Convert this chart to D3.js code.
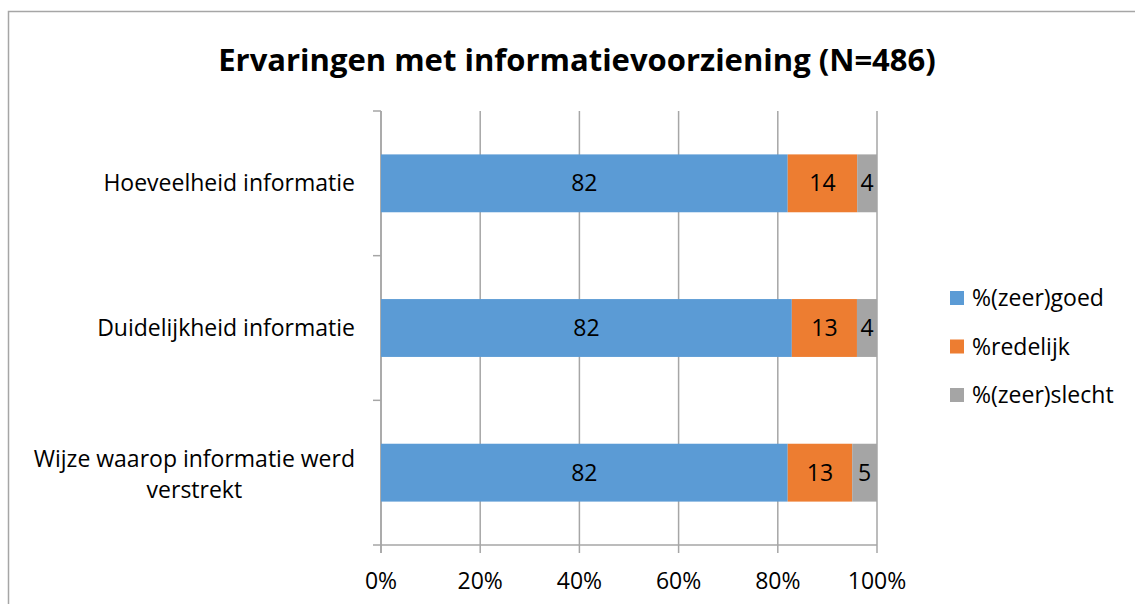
<!DOCTYPE html>
<html>
<head>
<meta charset="utf-8">
<script src="https://cdn.jsdelivr.net/npm/d3@7"></script>
<style>
  body { margin: 0; background: #fff; }
  text { font-family: "Open Sans", "Noto Sans", sans-serif; fill: #000; }
</style>
</head>
<body>
<svg id="chart" width="1135" height="604"></svg>
<script>
const categories = ["Hoeveelheid informatie", "Duidelijkheid informatie", "Wijze waarop informatie werd verstrekt"];
const series = ["%(zeer)goed", "%redelijk", "%(zeer)slecht"];
const goed = [82, 82, 82];
const redelijk = [14, 13, 13];
const slecht = [4, 4, 5];
const ticks = [0, 0.2, 0.4, 0.6, 0.8, 1];
const colors = ["#5B9BD5", "#ED7D31", "#A5A5A5"];

const svg = d3.select("#chart");
const margin = { left: 381, right: 258, top: 111, bottom: 59 };
const W = 1135, H = 604;
const fs = 23;

// kader rond de grafiek
svg.append("rect")
    .attr("x", 8.5).attr("y", 11.5)
    .attr("width", W).attr("height", H)
    .attr("fill", "none").attr("stroke", "#a6a6a6").attr("stroke-width", 1.5);

svg.append("text")
    .attr("x", 577).attr("y", 71)
    .attr("text-anchor", "middle")
    .attr("font-size", 31).attr("font-weight", "bold")
    .text("Ervaringen met informatievoorziening (N=486)");

const x = d3.scaleLinear().domain([0, 1]).range([margin.left, W - margin.right]);
const y = d3.scaleBand().domain(categories).range([margin.top, H - margin.bottom]).paddingInner(0.6).paddingOuter(0.3);

const rows = categories.map((c, i) => ({ cat: c, vals: [goed[i], redelijk[i], slecht[i]] }));
const stack = d3.stack().keys([0, 1, 2]).value((d, k) => d.vals[k]).offset(d3.stackOffsetExpand);
const layers = stack(rows);

// rasterlijnen
svg.append("g").selectAll("line").data(ticks).join("line")
    .attr("x1", d => x(d)).attr("x2", d => x(d))
    .attr("y1", margin.top).attr("y2", H - margin.bottom + 8)
    .attr("stroke", "#a6a6a6").attr("stroke-width", 1.5);

// y-as met streepjes tussen categorieen
const yTicks = d3.range(categories.length + 1).map(i => margin.top + i * (H - margin.bottom - margin.top) / categories.length);
svg.append("line")
    .attr("x1", x(0)).attr("x2", x(0)).attr("y1", margin.top).attr("y2", H - margin.bottom + 8)
    .attr("stroke", "#a6a6a6").attr("stroke-width", 1.5);
svg.append("g").selectAll("line").data(yTicks).join("line")
    .attr("x1", x(0) - 8).attr("x2", x(0))
    .attr("y1", d => d).attr("y2", d => d)
    .attr("stroke", "#a6a6a6").attr("stroke-width", 1.5);
svg.append("line")
    .attr("x1", x(0)).attr("x2", x(1)).attr("y1", H - margin.bottom).attr("y2", H - margin.bottom)
    .attr("stroke", "#a6a6a6").attr("stroke-width", 1.5);

const g = svg.append("g").selectAll("g").data(layers).join("g").attr("fill", (d, i) => colors[i]);
g.selectAll("rect").data(d => d).join("rect")
    .attr("x", d => x(d[0])).attr("width", d => x(d[1]) - x(d[0]))
    .attr("y", d => y(d.data.cat)).attr("height", y.bandwidth());

g.selectAll("text").data((d, i) => d.map(p => ({ p, k: i }))).join("text")
    .attr("x", d => (x(d.p[0]) + x(d.p[1])) / 2)
    .attr("y", d => y(d.p.data.cat) + y.bandwidth() / 2 + 8)
    .attr("text-anchor", "middle").attr("font-size", fs)
    .text(d => d.p.data.vals[d.k]);

// categorie labels
const lbl = svg.append("g").selectAll("text").data(categories).join("text")
    .attr("text-anchor", "end").attr("font-size", fs)
    .attr("x", 355)
    .attr("y", d => y(d) + y.bandwidth() / 2 + 8);
lbl.each(function (d) {
    const t = d3.select(this);
    if (d.length > 30) {
        t.attr("y", +t.attr("y") - 14);
        const t1 = t.append("tspan").text("Wijze waarop informatie werd");
        const w = t1.node().getComputedTextLength();
        t.append("tspan").attr("x", 355 - w / 2).attr("dy", 31).attr("text-anchor", "middle").text("verstrekt");
    } else t.text(d);
});

// x-as labels
svg.append("g").selectAll("text").data(ticks).join("text")
    .attr("x", d => x(d)).attr("y", 589)
    .attr("text-anchor", "middle").attr("font-size", fs)
    .text(d => d3.format(".0%")(d));

// legenda
const leg = svg.append("g").selectAll("g").data(series).join("g")
    .attr("transform", (d, i) => `translate(950, ${298 + i * 48.5})`);
leg.append("rect").attr("x", 0).attr("y", -7).attr("width", 14).attr("height", 14).attr("fill", (d, i) => colors[i]);
leg.append("text").attr("x", 22).attr("y", 8).attr("font-size", fs).text(d => d);
</script>
</body>
</html>
